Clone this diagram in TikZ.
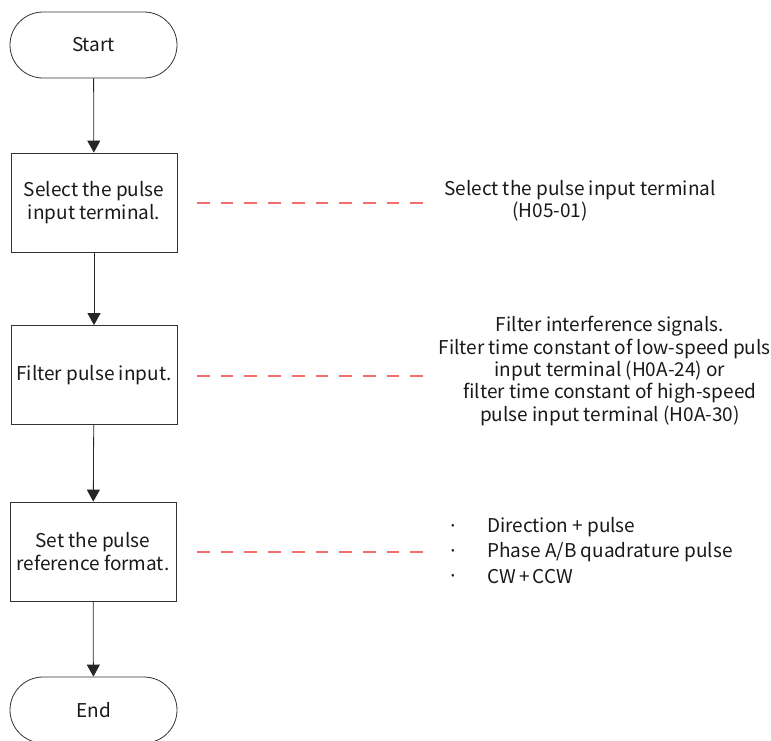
\documentclass[tikz,border=0pt]{standalone}
\usepackage{fontspec}
\setmainfont{Noto Sans CJK SC}
\newfontfamily\latfont{Noto Sans}
\usetikzlibrary{arrows.meta}
\definecolor{dashred}{RGB}{245,110,110}
\begin{document}
\begin{tikzpicture}[x=1pt,y=-1pt,
  every node/.style={font=\fontsize{19}{22.3}\selectfont, text=black!90, inner sep=0pt},
  term/.style={draw=black!80, line width=0.8pt, rounded corners=33pt, minimum width=167pt, minimum height=66pt},
  proc/.style={draw=black!80, line width=0.8pt, minimum width=166pt, minimum height=99pt, align=center},
  flow/.style={draw=black!85, line width=0.8pt, -{Triangle[length=12pt,width=13pt]}},
  note/.style={draw=dashred, line width=1.7pt, dash pattern=on 12.7pt off 11pt},
  txt/.style={align=center}]
\useasboundingbox (0,0) rectangle (771,740);
\clip (0,0) rectangle (771,740);
\coordinate (d1a) at (197,203);\coordinate (d1b) at (424,203);
\coordinate (d2a) at (197,376);\coordinate (d2b) at (424,376);
\coordinate (d3a) at (197,552);\coordinate (d3b) at (424,552);
\draw[note] (d1a) -- (d1b);
\draw[note] (d2a) -- (d2b);
\draw[note] (d3a) -- (d3b);
\node[term] (start) at (93.5,45) {Start};
\node[proc] (b1) at (94,202.5) {Select the pulse\\input terminal.};
\node[proc] (b2) at (94,375) {Filter pulse input.};
\node[proc] (b3) at (93,551.5) {Set the pulse\\reference format.};
\node[term] (end) at (93.5,710) {End};
\draw[flow] (start) -- (b1);
\draw[flow] (b1) -- (b2);
\draw[flow] (b2) -- (b3);
\draw[flow] (b3) -- (end);
\node (t1a) at (580,190) {Select the pulse input terminal};
\node (t1b) at (550,212) {(H05-01)};
\node[txt] (t2) at (610,371) {Filter interference signals.\\Filter time constant of low-speed pulse\\input terminal (H0A-24) or\\filter time constant of high-speed\\pulse input terminal (H0A-30)};
\node (bu1) at (453,528) {\latfont\textperiodcentered};
\node (bu2) at (453,553) {\latfont\textperiodcentered};
\node (bu3) at (453,578) {\latfont\textperiodcentered};
\node[anchor=west] (l1) at (487,527) {Direction + pulse};
\node[anchor=west] (l2) at (487,552) {Phase A/B quadrature pulse};
\node[anchor=west] (l3) at (487,577) {CW\,+\,CCW};
\end{tikzpicture}
\end{document}
